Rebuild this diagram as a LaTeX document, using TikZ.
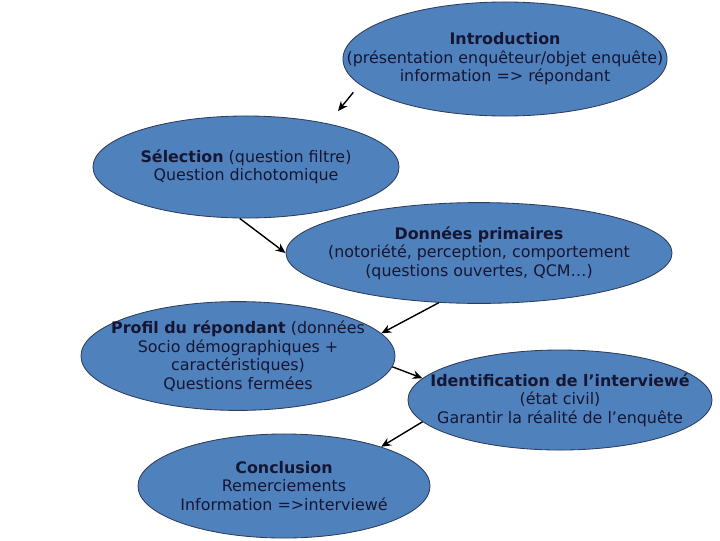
\documentclass[tikz,border=0pt]{standalone}
\usepackage{fontspec}
\setmainfont{DejaVu Sans}
\usetikzlibrary{arrows.meta, shapes.geometric}
\definecolor{bleubulle}{RGB}{79,129,189}
\definecolor{bordbulle}{RGB}{45,60,90}
\definecolor{encre}{RGB}{22,22,50}

\begin{document}
\begin{tikzpicture}[x=0.025cm, y=-0.025cm,
  bulle/.style={ellipse, draw=bordbulle, line width=0.6pt, fill=bleubulle, inner sep=0pt},
  texte/.style={align=center, text=encre, inner sep=0pt, font=\fontsize{11.3}{13.2}\selectfont},
  fleche/.style={-{Stealth[length=7pt, width=6pt]}, line width=1pt, black}]
  \useasboundingbox (0,0) rectangle (720,540);

  % les bulles
  \node[bulle, minimum width=8.1cm, minimum height=2.85cm] (intro) at (505,59) {};
  \node[bulle, minimum width=7.65cm, minimum height=2.55cm] (selec) at (246,167) {};
  \node[bulle, minimum width=9.65cm, minimum height=2.52cm] (donnees) at (479,253) {};
  \node[bulle, minimum width=7.85cm, minimum height=2.72cm] (profil) at (238,356) {};
  \node[bulle, minimum width=7.6cm, minimum height=2.5cm] (ident) at (560,400) {};
  \node[bulle, minimum width=7.3cm, minimum height=2.6cm] (concl) at (284,486) {};

  % les textes
  \node[texte] (intro-t) at (intro) {\textbf{Introduction}\\(présentation enquêteur/objet enquête)\\information => répondant};
  \node[texte] (selec-t) at (selec) {\textbf{Sélection} (question filtre)\\Question dichotomique};
  \node[texte] (donnees-t) at (donnees) {\textbf{Données primaires}\\(notoriété, perception, comportement\\(questions ouvertes, QCM…)};
  \node[texte] (profil-t) at (profil) {\textbf{Profil du répondant} (données\\Socio démographiques +\\caractéristiques)\\Questions fermées};
  \node[texte] (ident-t) at (ident) {\textbf{Identification de l’interviewé}\\(état civil)\\Garantir la réalité de l’enquête};
  \node[texte] (concl-t) at (concl) {\textbf{Conclusion}\\Remerciements\\Information =>interviewé};

  % les fleches
  \draw[fleche, shorten <=0.25cm, shorten >=0.4cm] (intro.190.7) -- (selec.28.7);
  \draw[fleche] (selec.263) -- (donnees.west);
  \draw[fleche] (donnees.231) -- (profil.9);
  \draw[fleche] (profil.-4.5) -- (ident.171);
  \draw[fleche] (ident.189.3) -- (concl.22);
\end{tikzpicture}
\end{document}
